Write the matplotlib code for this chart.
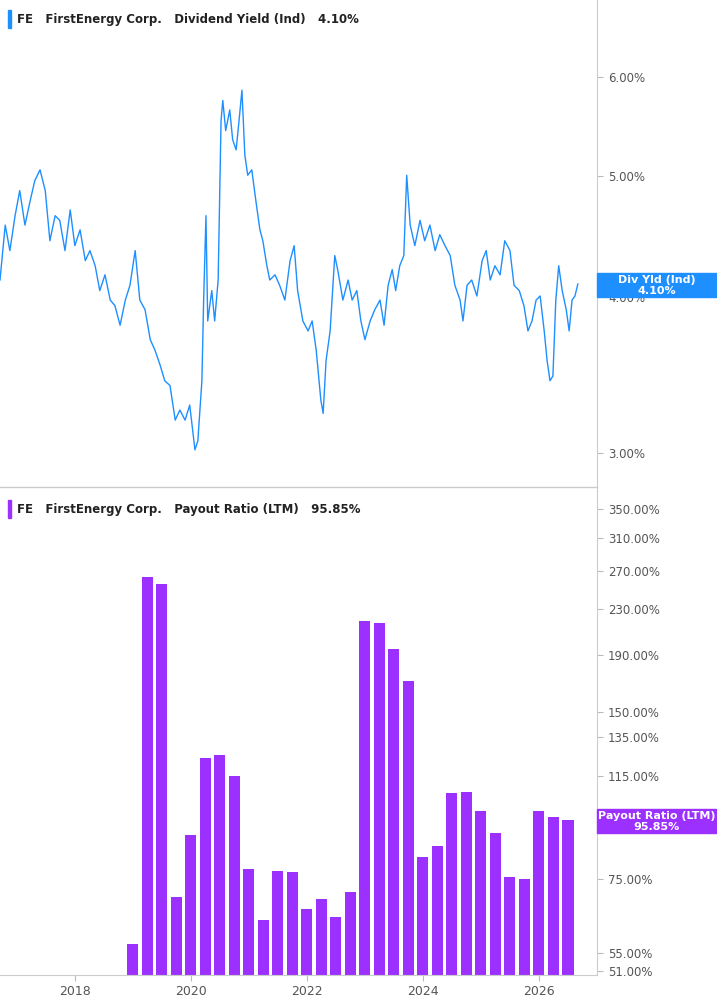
import matplotlib
matplotlib.use("Agg")
import matplotlib.pyplot as plt
from matplotlib.ticker import FixedLocator, NullLocator

yield_dates = [2016.71,2016.80,2016.88,2016.97,2017.05,2017.14,2017.23,2017.31,2017.40,2017.49,2017.57,2017.66,2017.74,2017.83,2017.92,2018.00,2018.09,2018.18,2018.26,2018.35,2018.43,2018.52,2018.61,2018.69,2018.78,2018.87,2018.95,2019.04,2019.12,2019.21,2019.30,2019.38,2019.47,2019.55,2019.64,2019.73,2019.81,2019.90,2019.98,2020.07,2020.12,2020.19,2020.22,2020.26,2020.29,2020.36,2020.41,2020.47,2020.52,2020.55,2020.60,2020.67,2020.72,2020.78,2020.83,2020.88,2020.93,2020.98,2021.05,2021.12,2021.19,2021.24,2021.31,2021.36,2021.45,2021.53,2021.62,2021.71,2021.78,2021.84,2021.93,2022.02,2022.09,2022.16,2022.21,2022.24,2022.28,2022.33,2022.40,2022.48,2022.53,2022.62,2022.71,2022.78,2022.86,2022.93,2023.00,2023.09,2023.17,2023.26,2023.33,2023.40,2023.47,2023.53,2023.60,2023.67,2023.72,2023.78,2023.86,2023.95,2024.03,2024.12,2024.21,2024.29,2024.38,2024.47,2024.55,2024.64,2024.69,2024.76,2024.84,2024.93,2025.02,2025.09,2025.16,2025.24,2025.33,2025.41,2025.50,2025.57,2025.66,2025.74,2025.81,2025.88,2025.95,2026.02,2026.09,2026.14,2026.19,2026.24,2026.29,2026.34,2026.40,2026.47,2026.52,2026.57,2026.62,2026.67]
yield_vals = [4.13,4.57,4.36,4.65,4.87,4.57,4.78,4.96,5.06,4.87,4.44,4.65,4.61,4.36,4.70,4.40,4.53,4.28,4.36,4.24,4.05,4.17,3.98,3.94,3.80,3.98,4.09,4.36,3.98,3.91,3.70,3.63,3.53,3.43,3.40,3.19,3.25,3.19,3.28,3.02,3.07,3.43,3.98,4.65,3.83,4.05,3.83,4.13,5.54,5.75,5.44,5.65,5.35,5.25,5.54,5.86,5.20,5.01,5.06,4.78,4.53,4.44,4.24,4.13,4.17,4.09,3.98,4.28,4.40,4.05,3.83,3.76,3.83,3.63,3.43,3.31,3.23,3.56,3.76,4.32,4.21,3.98,4.13,3.98,4.05,3.83,3.70,3.83,3.91,3.98,3.80,4.09,4.21,4.05,4.24,4.32,5.01,4.57,4.40,4.61,4.44,4.57,4.36,4.49,4.40,4.32,4.09,3.98,3.83,4.09,4.13,4.01,4.28,4.36,4.13,4.24,4.17,4.44,4.36,4.09,4.05,3.94,3.76,3.83,3.98,4.01,3.76,3.56,3.43,3.46,3.98,4.24,4.05,3.91,3.76,3.98,4.01,4.10]

payout_dates = [2019.00,2019.25,2019.50,2019.75,2020.00,2020.25,2020.50,2020.75,2021.00,2021.25,2021.50,2021.75,2022.00,2022.25,2022.50,2022.75,2023.00,2023.25,2023.50,2023.75,2024.00,2024.25,2024.50,2024.75,2025.00,2025.25,2025.50,2025.75,2026.00,2026.25,2026.50]
payout_vals = [57,263,256,69.4,90,124,125.5,115,78,63,77.5,77,66,69,64,71,219,217,195,171,82,86,107,107.5,99.4,90.6,75.5,75,99.5,96.8,95.85]

yield_ticks = [3,4,5,6]
payout_ticks = [51,55,75,115,135,150,190,230,270,310,350]
year_ticks = [2018,2020,2022,2024,2026]

BLUE = "#1e8fff"
PURPLE = "#9b30ff"
GREY = "#555555"

fig = plt.figure(figsize=(7.17,10.05), dpi=100)
W, H = 717, 1005
axr = 597
ax1 = fig.add_axes([0, 1-487/H, axr/W, 487/H])
ax2 = fig.add_axes([0, 1-975/H, axr/W, 488/H], sharex=ax1)

ax1.plot(yield_dates, yield_vals, color=BLUE, lw=1.0)
ax1.set_yscale("log")
ax1.set_ylim(2.82, 6.92)
base = 10
ax2.bar(payout_dates, [v - base for v in payout_vals], width=0.19, bottom=base, color=PURPLE)
ax2.set_yscale("log")
ax2.set_ylim(50.2, 383)
ax1.set_xlim(2016.71, 2027.0)

for ax, ticks in ((ax1, yield_ticks), (ax2, payout_ticks)):
    ax.yaxis.tick_right()
    ax.yaxis.set_major_locator(FixedLocator(ticks))
    ax.yaxis.set_minor_locator(NullLocator())
    ax.set_yticklabels(["{:.2f}%".format(t) for t in ticks])
    ax.tick_params(axis="y", length=4, color="#bbbbbb", labelsize=8.5, labelcolor=GREY, pad=4)
    for s in ("top", "left", "bottom"):
        ax.spines[s].set_visible(False)
    ax.spines["right"].set_color("#cccccc")

ax1.tick_params(axis="x", bottom=False, labelbottom=False)
ax2.set_xticks(year_ticks)
ax2.set_xticklabels([str(y) for y in year_ticks])
ax2.tick_params(axis="x", length=4, color="#bbbbbb", labelsize=9, labelcolor=GREY)
ax2.spines["bottom"].set_visible(True)
ax2.spines["bottom"].set_color("#cccccc")
fig.add_artist(plt.Line2D([0, axr/W], [1-487/H, 1-487/H], color="#cccccc", lw=1))

def header(y, color, text):
    fig.patches.append(plt.Rectangle((8/W, 1-(y+9)/H), 3/W, 18/H, transform=fig.transFigure, color=color))
    fig.text(17/W, 1-y/H, text, fontsize=8.5, fontweight="bold", va="center", color="#222222")

header(19, BLUE, "FE   FirstEnergy Corp.   Dividend Yield (Ind)   {:.2f}%".format(yield_vals[-1]))
header(509, PURPLE, "FE   FirstEnergy Corp.   Payout Ratio (LTM)   {:.2f}%".format(payout_vals[-1]))

def flag(y, color, l1, l2):
    fig.patches.append(plt.Rectangle((axr/W, 1-(y+12)/H), 1-axr/W, 24/H, transform=fig.transFigure, color=color))
    fig.text(657/W, 1-(y-5)/H, l1, fontsize=8, fontweight="bold", color="white", ha="center", va="center")
    fig.text(657/W, 1-(y+6)/H, l2, fontsize=8, fontweight="bold", color="white", ha="center", va="center")

flag(285, BLUE, "Div Yld (Ind)", "{:.2f}%".format(yield_vals[-1]))
flag(821, PURPLE, "Payout Ratio (LTM)", "{:.2f}%".format(payout_vals[-1]))

fig.savefig("out.png", dpi=100)
